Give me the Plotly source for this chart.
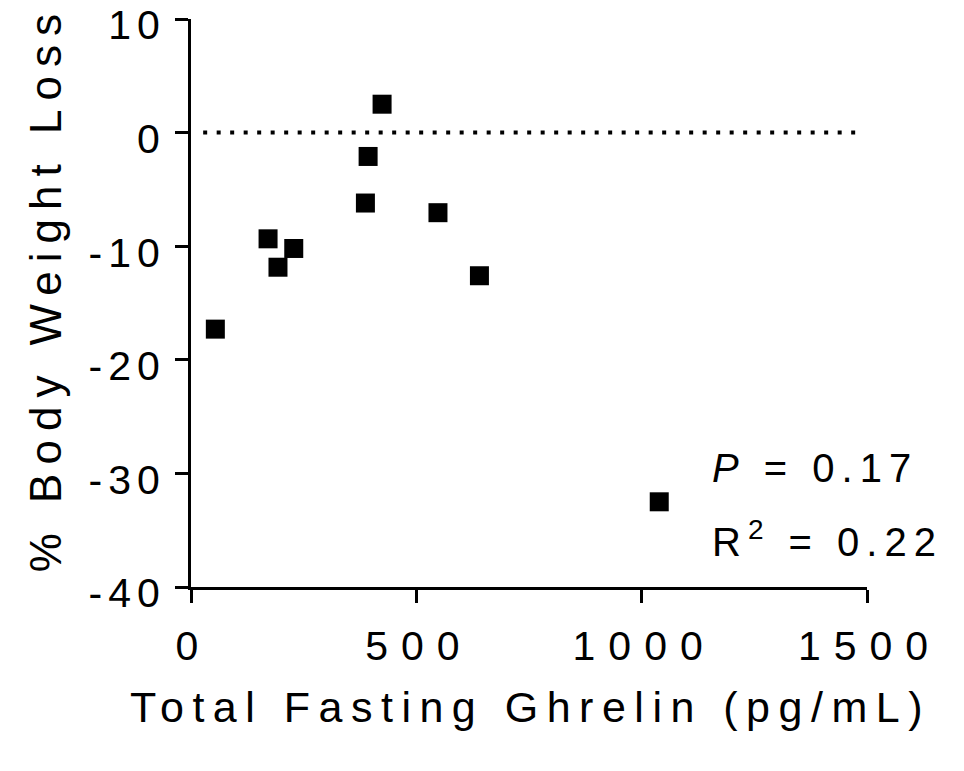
import plotly.graph_objects as go

# Data
ghrelin = [54, 171, 193, 228, 387, 393, 424, 548, 640, 1039]
weight_loss = [-17.3, -9.35, -11.85, -10.2, -6.2, -2.1, 2.5, -7.05, -12.6, -32.5]

x_ticks = [0, 500, 1000, 1500]
y_ticks = [-40, -30, -20, -10, 0, 10]
ref_line_x = [27, 1480]
ref_line_y = [0, 0]

FONT = "Liberation Sans, Arial, Helvetica, sans-serif"


def spaced(s, px):
    if len(s) < 2:
        return s
    return "<span style='letter-spacing:%spx'>%s</span>%s" % (px, s[:-1], s[-1])


fig = go.Figure()
fig.add_trace(go.Scatter(
    x=ref_line_x, y=ref_line_y, mode="lines",
    line=dict(color="black", width=4, dash="4px,9.5px"),
    hoverinfo="skip", showlegend=False))
fig.add_trace(go.Scatter(
    x=ghrelin, y=weight_loss, mode="markers",
    marker=dict(symbol="square", size=19, color="black", line=dict(width=0)),
    showlegend=False))

fig.update_layout(
    width=964, height=771,
    margin=dict(l=191, r=97, t=19, b=184, autoexpand=False),
    paper_bgcolor="white", plot_bgcolor="white",
    font=dict(family=FONT, color="black"),
    showlegend=False,
)
fig.update_xaxes(
    range=[0, 1500], tickmode="array", tickvals=x_ticks,
    ticktext=[spaced(str(v), 13) for v in x_ticks],
    ticks="outside", ticklen=13, tickwidth=3, tickcolor="black",
    showline=True, linewidth=3, linecolor="black",
    showgrid=False, zeroline=False, automargin=False,
    tickfont=dict(family=FONT, size=41, color="black"),
    ticklabelstandoff=8, ticklabelshift=-4, ticklabeloverflow="allow",
)
fig.update_yaxes(
    range=[-40, 10], tickmode="array", tickvals=y_ticks,
    ticktext=[spaced(str(v), 6) for v in y_ticks],
    ticks="outside", ticklen=13, tickwidth=3, tickcolor="black",
    showline=True, linewidth=3, linecolor="black",
    showgrid=False, zeroline=False, automargin=False,
    tickfont=dict(family=FONT, size=41, color="black"),
    ticklabelstandoff=7, ticklabelshift=6, ticklabeloverflow="allow",
)

fig.add_annotation(
    text=spaced("Total Fasting Ghrelin (pg/mL)", 8.5),
    xref="paper", yref="paper", x=0.4963, y=-0.2113,
    xanchor="center", yanchor="middle", showarrow=False,
    font=dict(family=FONT, size=43, color="black"))
fig.add_annotation(
    text=spaced("% Body Weight Loss", 9),
    xref="paper", yref="paper", x=-0.2149, y=0.5167, textangle=-90,
    xanchor="center", yanchor="middle", showarrow=False,
    font=dict(family=FONT, size=44, color="black"))
fig.add_annotation(
    text="<span style='letter-spacing:7px'><i>P</i> = 0.1</span>7",
    xref="paper", yref="paper", x=0.7678, y=0.1664,
    xanchor="left", yanchor="bottom", showarrow=False,
    font=dict(family=FONT, size=40, color="black"))
fig.add_annotation(
    text="<span style='letter-spacing:7px'>R<sup>2</sup> = 0.2</span>2",
    xref="paper", yref="paper", x=0.7678, y=0.0361,
    xanchor="left", yanchor="bottom", showarrow=False,
    font=dict(family=FONT, size=40, color="black"))

fig.write_html("out.html")
